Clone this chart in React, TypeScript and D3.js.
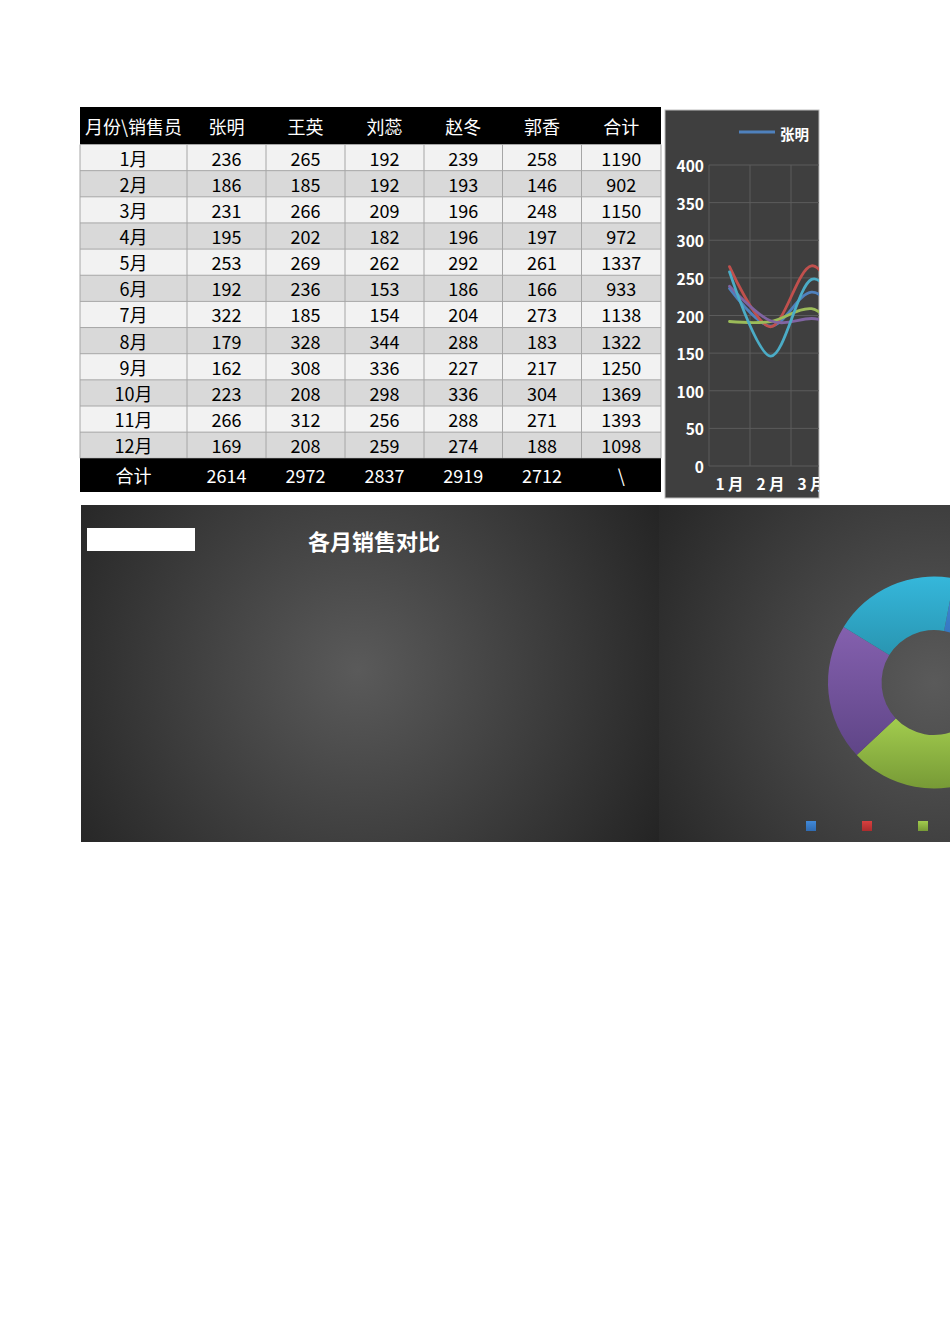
import * as d3 from 'd3';

const months = ['1月', '2月', '3月', '4月', '5月', '6月', '7月', '8月', '9月', '10月', '11月', '12月'];
const people = ['张明', '王英', '刘蕊', '赵冬', '郭香'];
const sales = [
  [236, 186, 231, 195, 253, 192, 322, 179, 162, 223, 266, 169],
  [265, 185, 266, 202, 269, 236, 185, 328, 308, 208, 312, 208],
  [192, 192, 209, 182, 262, 153, 154, 344, 336, 298, 256, 259],
  [239, 193, 196, 196, 292, 186, 204, 288, 227, 336, 288, 274],
  [258, 146, 248, 197, 261, 166, 273, 183, 217, 304, 271, 188],
];
const monthTotals = [1190, 902, 1150, 972, 1337, 933, 1138, 1322, 1250, 1369, 1393, 1098];
const personTotals = [2614, 2972, 2837, 2919, 2712];
const yTicks = [0, 50, 100, 150, 200, 250, 300, 350, 400];
const xTickLabels = ['1 月', '2 月', '3 月', '4 月', '5 月', '6 月', '7 月', '8 月', '9 月', '10 月', '11 月', '12 月'];

const seriesColors = ['#4f81bd', '#c0504d', '#9bbb59', '#8064a2', '#4bacc6'];
// donut slices: [top, bottom] shades
const sliceShades = [
  ['#4189d8', '#2f6bb2'],
  ['#d8403f', '#ab2c2d'],
  ['#a2cc4e', '#779a36'],
  ['#8460ae', '#5f4587'],
  ['#35b7db', '#2995b1'],
  ['#f79a3c', '#cf7822'],
];

const font = '"Noto Sans CJK SC", "Noto Sans", sans-serif';

// ---------- table ----------
const colEdges = [80, 187, 266, 345, 424, 502.5, 581.5, 661];
const headerTop = 107;
const headerBottom = 144.5;
const rowH = 26.15;
const totalBottom = 492;

const Table = () => {
  const rowY = d3.scaleLinear().domain([0, 1]).range([headerBottom, headerBottom + rowH]);
  const totalTop = rowY(12);
  const headers = ['月份\\销售员', ...people, '合计'];
  const cx = (i: number) => (colEdges[i] + colEdges[i + 1]) / 2;
  return (
    <g fontFamily={font} fontSize={18}>
      <rect x={80} y={headerTop} width={581} height={headerBottom - headerTop} fill="#000" />
      {headers.map((h, i) => (
        <text key={h} x={cx(i)} y={(headerTop + headerBottom) / 2} fill="#fff" textAnchor="middle" dominantBaseline="central">
          {h}
        </text>
      ))}
      {months.map((m, r) => {
        const cells = [m, ...sales.map((s) => String(s[r])), String(monthTotals[r])];
        const y0 = rowY(r);
        return (
          <g key={m}>
            <rect x={80} y={y0} width={581} height={rowH} fill={r % 2 === 0 ? '#f2f2f2' : '#d9d9d9'} />
            {cells.map((c, i) => (
              <text key={i} x={cx(i)} y={y0 + rowH / 2} fill="#000" textAnchor="middle" dominantBaseline="central">
                {c}
              </text>
            ))}
          </g>
        );
      })}
      {/* grid lines */}
      {d3.range(13).map((r) => (
        <line key={'h' + r} x1={80} x2={661} y1={rowY(r)} y2={rowY(r)} stroke="#a6a6a6" strokeWidth={1} />
      ))}
      {colEdges.map((x, i) => (
        <line key={'v' + i} x1={x} x2={x} y1={headerBottom} y2={totalTop} stroke="#a6a6a6" strokeWidth={1} />
      ))}
      <rect x={80} y={totalTop} width={581} height={totalBottom - totalTop} fill="#000" />
      {['合计', ...personTotals.map(String), '\\'].map((c, i) => (
        <text key={'t' + i} x={cx(i)} y={(totalTop + totalBottom) / 2} fill="#fff" textAnchor="middle" dominantBaseline="central">
          {c}
        </text>
      ))}
    </g>
  );
};

// ---------- line chart (clipped panel) ----------
const LineChart = () => {
  const panel = { x: 665, y: 110, w: 154, h: 388 };
  const x = d3.scaleBand().domain(months).range([709, 709 + 41 * 12]);
  const y = d3.scaleLinear().domain([0, 400]).range([466, 165]);
  const cxOf = (m: string) => (x(m) as number) + x.bandwidth() / 2;
  const line = d3
    .line<number>()
    .x((_, i) => cxOf(months[i]))
    .y((d) => y(d))
    .curve(d3.curveCardinal.tension(0));
  // only the part of the chart that shows inside the panel carries text
  const visibleMonths = months.filter((m) => cxOf(m) < panel.x + panel.w);
  return (
    <g fontFamily={font}>
      <defs>
        <clipPath id="lineClip">
          <rect x={panel.x} y={panel.y} width={panel.w} height={panel.h} />
        </clipPath>
      </defs>
      <rect x={panel.x} y={panel.y} width={panel.w} height={panel.h} fill="#3f3f3f" stroke="#bdbdbd" strokeWidth={1} />
      <g clipPath="url(#lineClip)">
        {yTicks.map((t) => (
          <line key={t} x1={709} x2={709 + 41 * 12} y1={y(t)} y2={y(t)} stroke="#5c5c5c" strokeWidth={1} />
        ))}
        {d3.range(13).map((i) => {
          const gx = 709 + x.step() * i;
          return <line key={i} x1={gx} x2={gx} y1={y(400)} y2={y(0)} stroke="#5c5c5c" strokeWidth={1} />;
        })}
        {sales.map((s, k) => (
          <path key={people[k]} d={line(s) as string} fill="none" stroke={seriesColors[k]} strokeWidth={2.8} strokeLinecap="round" />
        ))}
        {yTicks.map((t) => (
          <text key={t} x={704} y={y(t)} fill="#fff" fontSize={15.5} fontWeight={700} textAnchor="end" dominantBaseline="central">
            {t}
          </text>
        ))}
        {visibleMonths.map((m) => (
          <text key={m} x={cxOf(m)} y={483} fill="#fff" fontSize={15.5} fontWeight={700} textAnchor="middle" dominantBaseline="central">
            {xTickLabels[months.indexOf(m)]}
          </text>
        ))}
        {/* legend: first entry is the one inside the panel */}
        <g transform="translate(739,132)">
          <line x1={0} x2={36} y1={0} y2={0} stroke={seriesColors[0]} strokeWidth={2.8} />
          <text x={41} y={1} fill="#fff" fontSize={14.5} fontWeight={700} dominantBaseline="central">
            {people[0]}
          </text>
        </g>
      </g>
    </g>
  );
};

// ---------- lower charts ----------
const LowerCharts = () => {
  const top = 505;
  const bottom = 842;
  const center = { x: 934, y: 682.5 };
  const pie = d3
    .pie<number>()
    .sort(null)
    .startAngle((11 * Math.PI) / 180)
    .endAngle((11 * Math.PI) / 180 + 2 * Math.PI);
  const arc = d3.arc<d3.PieArcDatum<number>>().innerRadius(52.5).outerRadius(106);
  const arcs = pie(personTotals);
  return (
    <g fontFamily={font}>
      <defs>
        <radialGradient id="bgLeft" gradientUnits="userSpaceOnUse" cx={358} cy={670} r={345}>
          <stop offset="0" stopColor="#5a5a5a" />
          <stop offset="1" stopColor="#242424" />
        </radialGradient>
        <radialGradient id="bgRight" gradientUnits="userSpaceOnUse" cx={center.x} cy={center.y} r={345}>
          <stop offset="0" stopColor="#5a5a5a" />
          <stop offset="1" stopColor="#242424" />
        </radialGradient>
        {sliceShades.map((c, i) => (
          <linearGradient key={i} id={'slice' + i} x1="0" y1="0" x2="0" y2="1">
            <stop offset="0" stopColor={c[0]} />
            <stop offset="1" stopColor={c[1]} />
          </linearGradient>
        ))}
      </defs>
      <rect x={81} y={top} width={578} height={bottom - top} fill="url(#bgLeft)" />
      <rect x={659} y={top} width={300} height={bottom - top} fill="url(#bgRight)" />
      <rect x={87} y={528} width={108} height={23} fill="#fff" />
      <text x={374} y={540} fill="#fff" fontSize={22} fontWeight={700} textAnchor="middle" dominantBaseline="central">
        各月销售对比
      </text>
      <g transform={`translate(${center.x},${center.y})`}>
        {arcs.map((a, i) => (
          <path key={people[i]} d={arc(a) as string} fill={`url(#slice${i})`} />
        ))}
      </g>
      {people.map((p, k) => (
        <rect key={p} x={806 + k * 56} y={821} width={10} height={10} fill={`url(#slice${k})`} />
      ))}
    </g>
  );
};

export default function App() {
  return (
    <svg
      width={950}
      height={1344}
      viewBox="0 0 950 1344"
      style={{ position: 'absolute', left: 0, top: 0, background: '#fff' }}
    >
      <Table />
      <LineChart />
      <LowerCharts />
    </svg>
  );
}
